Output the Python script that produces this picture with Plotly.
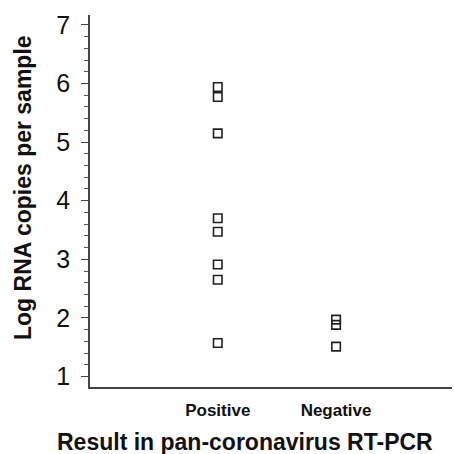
import plotly.graph_objects as go

categories = ["Positive", "Negative"]
positive_values = [5.94, 5.77, 5.15, 3.70, 3.47, 2.91, 2.65, 1.57]
negative_values = [1.97, 1.88, 1.51]
y_tick_vals = [1, 2, 3, 4, 5, 6, 7]
x_title = "Result in pan-coronavirus RT-PCR"
y_title = "Log RNA copies per sample"

fig = go.Figure()
for cat, vals in zip(categories, [positive_values, negative_values]):
    fig.add_trace(go.Scatter(
        x=[cat] * len(vals), y=vals, mode="markers",
        marker=dict(symbol="square-open", size=8.5, color="#222222",
                    line=dict(width=1.6, color="#222222")),
        showlegend=False, hoverinfo="y"))

fig.update_layout(
    width=454, height=454,
    margin=dict(l=90, r=2, t=15, b=67),
    paper_bgcolor="white", plot_bgcolor="white",
    font=dict(family="Liberation Sans, Arial, sans-serif", color="#111111"),
)
fig.update_xaxes(
    type="category", categoryorder="array", categoryarray=categories,
    range=[-1.08, 1.98],
    showline=True, linecolor="#444444", linewidth=1.5,
    ticks="", showgrid=False, zeroline=False,
    tickfont=dict(size=17, weight="bold"),
    ticklabelstandoff=7,
)
fig.update_yaxes(
    range=[0.82, 7.17],
    tickvals=y_tick_vals,
    showline=True, linecolor="#444444", linewidth=1.5,
    ticks="outside", ticklen=7, tickwidth=1.3, tickcolor="#444444",
    minor=dict(dtick=0.2, ticks="outside", ticklen=4, tickwidth=1, tickcolor="#555555"),
    showgrid=False, zeroline=False,
    tickfont=dict(size=25),
    ticklabelstandoff=6,
)
fig.add_annotation(text="<b>" + x_title + "</b>", xref="paper", yref="paper",
                   x=0.428, y=-0.148, showarrow=False, xanchor="center", yanchor="middle",
                   font=dict(size=23))
fig.add_annotation(text="<b>" + y_title + "</b>", xref="paper", yref="paper",
                   x=-0.185, y=0.535, showarrow=False, xanchor="center", yanchor="middle",
                   textangle=-90, font=dict(size=23))

fig.write_html("out.html")
